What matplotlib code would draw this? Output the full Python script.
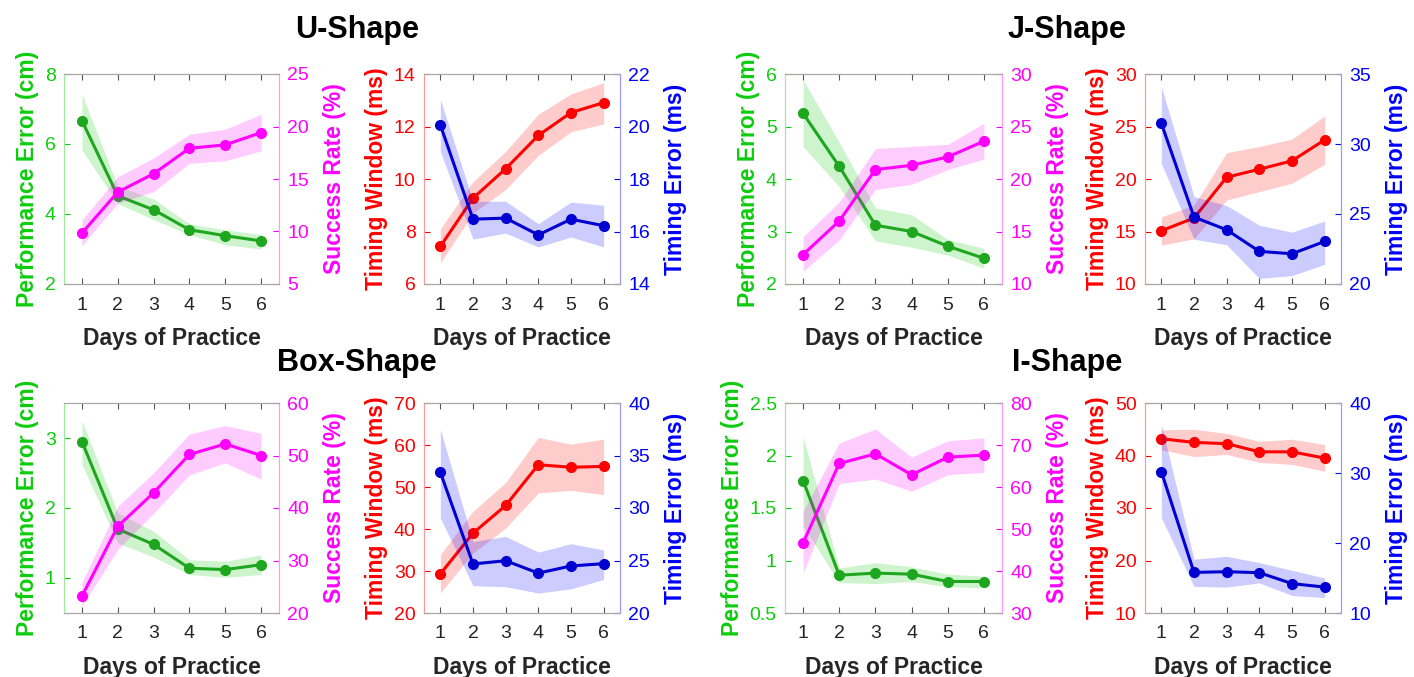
import matplotlib
matplotlib.use("Agg")
import matplotlib.pyplot as plt
from matplotlib.ticker import FuncFormatter
import numpy as np

plt.rcParams['font.family'] = ['Liberation Sans', 'DejaVu Sans']

days = [1, 2, 3, 4, 5, 6]
shape_titles = ["U-Shape", "J-Shape", "Box-Shape", "I-Shape"]

# U-shape
u_perf = [6.67, 4.52, 4.12, 3.55, 3.38, 3.23]
u_perf_lo = [5.83, 4.30, 3.84, 3.41, 3.12, 3.00]
u_perf_hi = [7.43, 4.80, 4.43, 3.72, 3.55, 3.41]
u_succ = [9.85, 13.75, 15.5, 17.93, 18.25, 19.42]
u_succ_lo = [8.65, 12.7, 13.8, 16.5, 16.73, 17.68]
u_succ_hi = [11.1, 15.2, 17.0, 19.26, 19.74, 21.16]
u_win = [7.43, 9.27, 10.39, 11.66, 12.53, 12.91]
u_win_lo = [6.8, 8.7, 9.6, 10.9, 11.8, 12.1]
u_win_hi = [8.1, 9.9, 11.05, 12.47, 13.24, 13.67]
u_terr = [20.06, 16.47, 16.51, 15.87, 16.47, 16.22]
u_terr_lo = [19.05, 15.71, 15.94, 15.41, 15.79, 15.41]
u_terr_hi = [21.04, 17.15, 17.15, 16.3, 17.12, 17.0]

# J-shape
j_perf = [5.25, 4.24, 3.12, 3.0, 2.72, 2.49]
j_perf_lo = [4.62, 3.85, 2.82, 2.70, 2.55, 2.30]
j_perf_hi = [5.89, 4.70, 3.45, 3.32, 2.85, 2.68]
j_succ = [12.8, 16.0, 20.9, 21.3, 22.1, 23.6]
j_succ_lo = [11.2, 14.2, 19.0, 19.5, 20.9, 21.9]
j_succ_hi = [14.5, 17.8, 22.9, 23.1, 23.3, 25.3]
j_win = [15.07, 16.28, 20.17, 20.93, 21.73, 23.73]
j_win_lo = [13.7, 14.3, 18.0, 18.8, 19.6, 21.4]
j_win_hi = [16.4, 17.5, 22.5, 23.1, 23.8, 26.0]
j_terr = [31.48, 24.78, 23.87, 22.33, 22.16, 23.04]
j_terr_lo = [28.6, 23.2, 22.8, 20.4, 20.6, 21.4]
j_terr_hi = [34.1, 26.25, 25.6, 24.2, 23.7, 24.5]

# Box-shape
b_perf = [2.95, 1.70, 1.48, 1.14, 1.12, 1.19]
b_perf_lo = [2.62, 1.50, 1.30, 1.05, 1.01, 1.05]
b_perf_hi = [3.25, 1.93, 1.67, 1.26, 1.24, 1.33]
b_succ = [23.2, 36.5, 42.9, 50.2, 52.2, 50.0]
b_succ_lo = [21.3, 32.1, 39.0, 46.3, 48.6, 45.5]
b_succ_hi = [25.8, 40.3, 46.7, 54.1, 55.7, 54.2]
b_win = [29.3, 39.0, 45.6, 55.3, 54.7, 54.9]
b_win_lo = [24.8, 34.3, 40.2, 48.6, 49.2, 48.2]
b_win_hi = [33.9, 44.2, 51.1, 61.8, 60.2, 61.4]
b_terr = [33.4, 24.67, 24.98, 23.8, 24.48, 24.7]
b_terr_lo = [29.05, 22.6, 22.5, 21.9, 22.3, 23.2]
b_terr_hi = [37.5, 26.8, 27.3, 25.8, 26.6, 26.0]

# I-shape
i_perf = [1.76, 0.86, 0.88, 0.87, 0.80, 0.80]
i_perf_lo = [1.33, 0.79, 0.78, 0.80, 0.75, 0.74]
i_perf_hi = [2.18, 0.93, 0.98, 0.94, 0.87, 0.85]
i_succ = [46.7, 65.6, 67.9, 62.9, 67.1, 67.6]
i_succ_lo = [39.5, 60.8, 61.9, 59.0, 62.9, 63.5]
i_succ_hi = [54.2, 70.5, 73.8, 67.1, 71.0, 71.7]
i_win = [43.2, 42.5, 42.25, 40.7, 40.7, 39.5]
i_win_lo = [41.1, 39.8, 40.2, 38.7, 38.3, 37.0]
i_win_hi = [44.9, 45.0, 44.2, 42.7, 43.1, 42.1]
i_terr = [30.2, 15.8, 15.9, 15.76, 14.2, 13.7]
i_terr_lo = [23.6, 13.8, 13.7, 14.3, 12.5, 12.2]
i_terr_hi = [36.9, 17.7, 18.1, 17.2, 16.1, 15.0]

# axis ranges (lo, hi, step) per shape: perf, succ, win, terr
u_lims = [(2, 8, 2), (5, 25, 5), (6, 14, 2), (14, 22, 2)]
j_lims = [(2, 6, 1), (10, 30, 5), (10, 30, 5), (20, 35, 5)]
b_lims = [(0.5, 3.5, 1), (20, 60, 10), (20, 70, 10), (20, 40, 5)]
i_lims = [(0.5, 2.5, 0.5), (30, 80, 10), (10, 50, 10), (10, 40, 10)]

GREEN = (0.05, 0.8, 0.05)
GREEN_LINE = (0.12, 0.65, 0.12)
MAGENTA = (1.0, 0.0, 1.0)
RED = (1.0, 0.0, 0.0)
BLUE = (0.0, 0.0, 1.0)
BLUE_LINE = (0.0, 0.0, 0.82)

W, H = 1414, 677
fig = plt.figure(figsize=(W / 100, H / 100), dpi=100)

col_x = [(64, 279), (424, 620), (785, 1002), (1145, 1341)]
row_y = [(74, 284), (403, 613)]

fmt = FuncFormatter(lambda v, p: "%g" % v)


def light(c, a=0.4):
    return tuple(1 - a * (1 - ci) for ci in c)


def draw_series(ax, m, lo, hi, col, lcol):
    ax.fill_between(days, lo, hi, color=col, alpha=0.2, linewidth=0)
    ax.plot(days, m, color=lcol, lw=2.2, marker='o', ms=7)


def panel(px, py, left, right, lims_l, lims_r, lab_l, lab_r, c_l, lc_l, c_r, lc_r):
    x0, x1 = px
    y0, y1 = py
    ax = fig.add_axes([x0 / W, 1 - y1 / H, (x1 - x0) / W, (y1 - y0) / H])
    ax2 = ax.twinx()
    draw_series(ax, *left, c_l, lc_l)
    draw_series(ax2, *right, c_r, lc_r)
    for a, (lo, hi, st) in ((ax, lims_l), (ax2, lims_r)):
        a.set_ylim(lo, hi)
        start = lo if st != 1 or lo == int(lo) else np.ceil(lo)
        a.set_yticks(np.arange(start, hi + 1e-9, st))
        a.yaxis.set_major_formatter(fmt)
    ax.set_xlim(0.5, 6.5)
    ax.set_xticks(days)
    ax.tick_params(axis='x', direction='in', top=True, length=4, labelsize=14,
                   labelcolor='#262626', color='#555555', pad=9)
    ax.tick_params(axis='y', direction='in', length=4, labelsize=14,
                   colors=c_l, pad=6)
    ax2.tick_params(axis='y', direction='in', length=4, labelsize=14,
                    colors=c_r, pad=6)
    for a in (ax, ax2):
        a.spines['top'].set_color('#a6a6a6')
        a.spines['bottom'].set_color('#a6a6a6')
        a.spines['left'].set_color(light(c_l))
        a.spines['right'].set_color(light(c_r))
    ax.set_xlabel("Days of Practice", fontsize=16.5, fontweight='bold',
                  color='#262626', labelpad=10)
    ax.set_ylabel(lab_l, fontsize=16.5, fontweight='bold', color=c_l, labelpad=4)
    ax2.set_ylabel(lab_r, fontsize=16.5, fontweight='bold', color=c_r, labelpad=10)


shapes = [
    ((u_perf, u_perf_lo, u_perf_hi), (u_succ, u_succ_lo, u_succ_hi),
     (u_win, u_win_lo, u_win_hi), (u_terr, u_terr_lo, u_terr_hi), u_lims),
    ((j_perf, j_perf_lo, j_perf_hi), (j_succ, j_succ_lo, j_succ_hi),
     (j_win, j_win_lo, j_win_hi), (j_terr, j_terr_lo, j_terr_hi), j_lims),
    ((b_perf, b_perf_lo, b_perf_hi), (b_succ, b_succ_lo, b_succ_hi),
     (b_win, b_win_lo, b_win_hi), (b_terr, b_terr_lo, b_terr_hi), b_lims),
    ((i_perf, i_perf_lo, i_perf_hi), (i_succ, i_succ_lo, i_succ_hi),
     (i_win, i_win_lo, i_win_hi), (i_terr, i_terr_lo, i_terr_hi), i_lims),
]

title_pos = [(357, 30), (1067, 30), (357, 363), (1067, 363)]

for k, (perf, succ, win, terr, lims) in enumerate(shapes):
    r, c = divmod(k, 2)
    py = row_y[r]
    panel(col_x[2 * c], py, perf, succ, lims[0], lims[1],
          "Performance Error (cm)", "Success Rate (%)",
          GREEN, GREEN_LINE, MAGENTA, MAGENTA)
    panel(col_x[2 * c + 1], py, win, terr, lims[2], lims[3],
          "Timing Window (ms)", "Timing Error (ms)",
          RED, RED, BLUE, BLUE_LINE)
    tx, ty = title_pos[k]
    fig.text(tx / W, 1 - ty / H, shape_titles[k], fontsize=22, fontweight='bold',
             ha='center', va='center')

fig.savefig("out.png", dpi=100)
